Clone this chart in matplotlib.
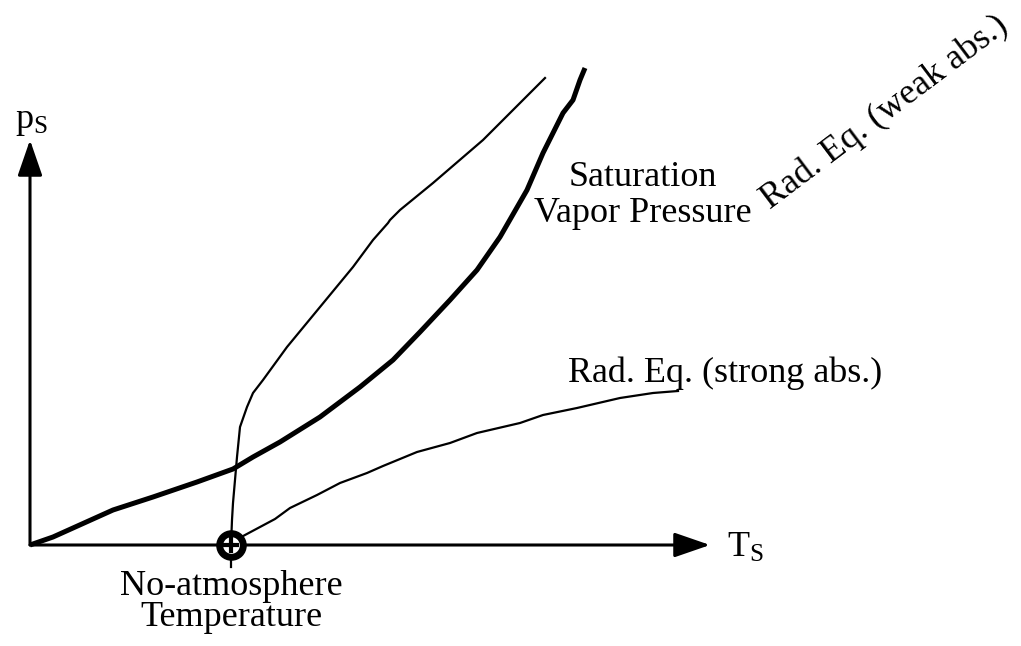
import numpy as np
import matplotlib
matplotlib.use("Agg")
import matplotlib.pyplot as plt

plt.rcParams['font.family'] = ['Liberation Serif', 'DejaVu Serif']
plt.rcParams['mathtext.fontset'] = 'custom'
plt.rcParams['mathtext.rm'] = 'Liberation Serif'

# surface temperature / surface pressure, arbitrary units
sat_T = [0.00, 0.23, 0.83, 1.23, 1.67, 2.03, 2.23, 2.50, 2.90, 3.30, 3.63,
         3.90, 4.20, 4.47, 4.70, 4.97, 5.13, 5.33, 5.43, 5.50, 5.55]
sat_p = [0.00, 0.08, 0.35, 0.48, 0.63, 0.76, 0.88, 1.03, 1.28, 1.58, 1.85,
         2.13, 2.45, 2.75, 3.08, 3.55, 3.92, 4.32, 4.45, 4.65, 4.77]

weak_T = [2.01, 2.02, 2.03, 2.07, 2.10, 2.17, 2.23, 2.33, 2.57, 2.90, 3.23,
          3.43, 3.58, 3.60, 3.70, 4.03, 4.53, 5.15]
weak_p = [0.00, 0.25, 0.42, 0.88, 1.18, 1.38, 1.52, 1.65, 1.98, 2.38, 2.78,
          3.05, 3.22, 3.25, 3.35, 3.62, 4.05, 4.67]

strong_T = [2.06, 2.15, 2.30, 2.45, 2.60, 2.87, 3.10, 3.37, 3.53, 3.87, 4.20,
            4.47, 4.90, 5.13, 5.47, 5.90, 6.23, 6.48]
strong_p = [0.05, 0.10, 0.18, 0.26, 0.37, 0.50, 0.62, 0.72, 0.79, 0.93, 1.02,
            1.12, 1.22, 1.30, 1.37, 1.47, 1.52, 1.54]

T0 = 2.01  # no-atmosphere temperature
T_max, p_max = 6.80, 4.05  # axis arrow tips

fig = plt.figure(figsize=(10.21, 6.46), dpi=100)
ax = fig.add_axes([0, 0, 1, 1])
ax.set_xlim(-0.30, 9.91)
ax.set_ylim(-1.01, 5.45)
ax.axis('off')

# axes with arrow heads
arrow = dict(arrowstyle='-|>,head_length=1.1,head_width=0.38', lw=2.2,
             color='k', shrinkA=0, shrinkB=0, mutation_scale=20)
ax.annotate('', xy=(T_max, 0), xytext=(0, 0), arrowprops=arrow)
ax.annotate('', xy=(0, p_max), xytext=(0, 0), arrowprops=arrow)

# curves
ax.plot(sat_T, sat_p, color='k', lw=3.6, solid_capstyle='butt')
ax.plot(weak_T, weak_p, color='k', lw=1.6)
ax.plot(strong_T, strong_p, color='k', lw=1.6)

# no-atmosphere point
ax.plot([T0, T0], [0, -0.22], color='k', lw=1.6)
ax.plot(T0, 0, 'o', ms=17, mfc='white', mec='k', mew=5, zorder=5)
ax.plot(T0, 0, '+', ms=11, mec='k', mew=3, zorder=6)

fs = 26
ax.text(-0.15, 4.17, r'$\mathrm{p_S}$', fontsize=fs, ha='left', va='baseline')
ax.text(6.97, -0.12, r'$\mathrm{T_S}$', fontsize=fs, ha='left', va='baseline')
ax.text(6.13, 3.59, 'Saturation', fontsize=fs, ha='center', va='baseline')
ax.text(6.13, 3.23, 'Vapor Pressure', fontsize=fs, ha='center', va='baseline')
ax.text(6.95, 1.63, 'Rad. Eq. (strong abs.)', fontsize=fs, ha='center', va='baseline')
ax.text(T0, -0.50, 'No-atmosphere', fontsize=fs, ha='center', va='baseline')
ax.text(T0, -0.81, 'Temperature', fontsize=fs, ha='center', va='baseline')
ax.text(8.55, 4.33, 'Rad. Eq. (weak abs.)', fontsize=fs, ha='center', va='center',
        rotation=37, rotation_mode='anchor')

fig.savefig('out.png', dpi=100)
